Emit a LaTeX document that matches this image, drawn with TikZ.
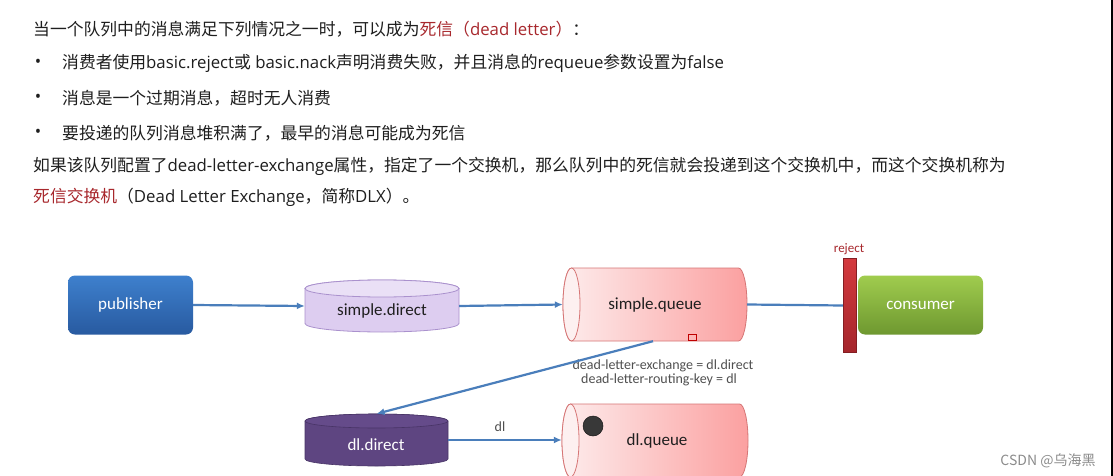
\documentclass[tikz,border=0pt]{standalone}
\usepackage{fontspec}
\setmainfont{Open Sans}
\newfontfamily\cjk{Noto Sans CJK SC}
\newfontfamily\lbl{Carlito}
\usetikzlibrary{arrows.meta}
\definecolor{dred}{RGB}{168,40,45}
\definecolor{txt}{RGB}{30,30,30}
\definecolor{arrowblue}{RGB}{74,126,187}
\definecolor{pubtop}{RGB}{62,128,205}
\definecolor{pubbot}{RGB}{40,90,160}
\definecolor{constop}{RGB}{160,204,78}
\definecolor{consbot}{RGB}{110,152,48}
\definecolor{sdbody}{RGB}{221,205,240}
\definecolor{sdtop}{RGB}{234,224,246}
\definecolor{sdline}{RGB}{170,145,205}
\definecolor{qleft}{RGB}{253,236,236}
\definecolor{qright}{RGB}{251,160,160}
\definecolor{qline}{RGB}{214,118,118}
\definecolor{qface}{RGB}{253,240,240}
\definecolor{ddbody}{RGB}{94,69,129}
\definecolor{ddtop}{RGB}{101,75,138}
\definecolor{ddline}{RGB}{72,52,102}
\definecolor{rejtop}{RGB}{212,58,62}
\definecolor{rejbot}{RGB}{165,38,44}
\definecolor{labgray}{RGB}{80,80,80}
% horizontal cylinder: L R T B rx body-style face-style
\newcommand\myhcyl[7]{%
  \path[#6] ({#1+#5},#3) -- ({#2-#5},#3)
    arc[start angle=-90,end angle=90,x radius=#5,y radius={(#4-#3)/2}]
    -- ({#1+#5},#4)
    arc[start angle=90,end angle=270,x radius=#5,y radius={(#4-#3)/2}] -- cycle;
  \path[#7] ({#1+#5},{(#3+#4)/2}) ellipse[x radius=#5,y radius={(#4-#3)/2}];
}
% vertical cylinder: L R T B ry body-style top-style
\newcommand\myvcyl[7]{%
  \path[#6] (#1,{#3+#5}) -- (#1,{#4-#5})
    arc[start angle=180,end angle=0,x radius={(#2-#1)/2},y radius=#5]
    -- (#2,{#3+#5})
    arc[start angle=0,end angle=-180,x radius={(#2-#1)/2},y radius=#5] -- cycle;
  \path[#7] ({(#1+#2)/2},{#3+#5}) ellipse[x radius={(#2-#1)/2},y radius=#5];
}
\begin{document}
\begin{tikzpicture}[x=1pt,y=-1pt,
  textline/.style={anchor=west,inner sep=0pt,text=txt,font=\fontsize{16.8}{20}\selectfont},
  bulletmark/.style={anchor=center,inner sep=0pt,text=txt,font=\fontsize{17}{19}\selectfont},
  lab/.style={inner sep=0pt,font=\lbl\fontsize{17}{20}\selectfont,text=black!88},
  box/.style={rounded corners=7pt,inner sep=0pt,minimum width=125pt,minimum height=59pt,
    text=white,font=\lbl\fontsize{17}{20}\selectfont},
  holder/.style={inner sep=0pt,draw=none},
  arr/.style={draw=arrowblue,line width=2.2pt,-{Latex[length=8pt,width=7pt]}},
  plain/.style={draw=arrowblue,line width=2.2pt},
  small/.style={inner sep=0pt,font=\lbl\fontsize{14}{16}\selectfont,text=labgray}
]
\useasboundingbox (0,0) rectangle (1113,476);
\fill[white] (0,0) rectangle (1113,476);

% ---------- text ----------
\node[textline] (t1) at (33,29) {{\cjk 当一个队列中的消息满足下列情况之一时，可以成为}\textcolor{dred}{{\cjk 死信（}dead letter{\cjk ）}}{\cjk ：}};
\node[bulletmark] (b1) at (38,63) {•};
\node[textline] (t2) at (62,63) {{\cjk 消费者使用}basic.reject{\cjk 或} basic.nack{\cjk 声明消费失败，并且消息的}requeue{\cjk 参数设置为}false};
\node[bulletmark] (b2) at (38,98) {•};
\node[textline] (t3) at (62,98) {\cjk 消息是一个过期消息，超时无人消费};
\node[bulletmark] (b3) at (38,133) {•};
\node[textline] (t4) at (62,133) {\cjk 要投递的队列消息堆积满了，最早的消息可能成为死信};
\node[textline] (t5) at (33,166) {{\cjk 如果该队列配置了}dead-letter-exchange{\cjk 属性，指定了一个交换机，那么队列中的死信就会投递到这个交换机中，而这个交换机称为}};
\node[textline] (t6) at (33,197) {\textcolor{dred}{\cjk 死信交换机}{\cjk （}Dead Letter Exchange{\cjk ，简称}DLX{\cjk ）。}};

% ---------- shapes ----------
\myvcyl{305}{459}{280}{332}{8.5}{fill=sdbody,draw=sdline,line width=0.8pt}{fill=sdtop,draw=sdline,line width=0.8pt}
\myhcyl{563}{747}{268}{341}{8.5}{left color=qleft,right color=qright,draw=qline,line width=0.8pt}{fill=qface,draw=qline,line width=0.8pt}
\myvcyl{305}{448}{414}{466}{7}{fill=ddbody,draw=ddline,line width=0.6pt}{fill=ddtop,draw=ddline,line width=0.6pt}
\myhcyl{562}{748}{404}{477}{8.5}{left color=qleft,right color=qright,draw=qline,line width=0.8pt}{fill=qface,draw=qline,line width=0.8pt}

% ---------- nodes ----------
\node[box,top color=pubtop,bottom color=pubbot] (pub) at (130.5,305) {publisher};
\node[holder,minimum width=154pt,minimum height=52pt] (sd) at (382,306) {};
\node[lab] (sdl) at (382,311) {simple.direct};
\node[holder,minimum width=184pt,minimum height=73pt] (sq) at (655,304.5) {};
\node[lab] (sql) at (655,305) {simple.queue};
\node[inner sep=0pt,minimum width=13pt,minimum height=94pt,top color=rejtop,bottom color=rejbot,draw=rejbot!80!black,line width=0.4pt] (rej) at (849.5,305.5) {};
\node[inner sep=0pt,font=\lbl\fontsize{13}{15}\selectfont,text=dred] (rejl) at (849,249) {reject};
\node[box,top color=constop,bottom color=consbot] (cons) at (920.5,305) {consumer};
\node[small] (dlx1) at (663,366) {dead-letter-exchange = dl.direct};
\node[small] (dlx2) at (659,380) {dead-letter-routing-key = dl};
\node[holder,minimum width=143pt,minimum height=52pt] (dd) at (376.5,440) {};
\node[lab,text=white] (ddl) at (376,445) {dl.direct};
\node[holder,minimum width=186pt,minimum height=72pt] (dq) at (655,440) {};
\node[lab] (dql) at (657,441) {dl.queue};
\node[circle,inner sep=0pt,minimum size=20pt,fill=black!78,draw=black!90,line width=0.5pt] (msg) at (593,426) {};
\node[small] (dll) at (500,427) {dl};
\node[draw=red!75!black,line width=0.6pt,inner sep=0pt,minimum width=8pt,minimum height=6pt] (cur) at (692,337) {};
\node[inner sep=0pt,text=black!45,font=\cjk\fontsize{14}{16}\selectfont] (wm) at (1048,461) {CSDN @乌海黑};

% ---------- connectors ----------
\draw[arr] (pub.east) -- (sd.west);
\draw[arr] (sd.east) -- (sq.west);
\draw[plain] (sq.east) -- (rej.west);
\draw[arr] ([xshift=-2pt]sq.south) -- (dd.north);
\draw[arr] (dd.east) -- (dq.west);

% right border line
\fill[black] (1110.5,0) rectangle (1113,476);
\end{tikzpicture}
\end{document}
